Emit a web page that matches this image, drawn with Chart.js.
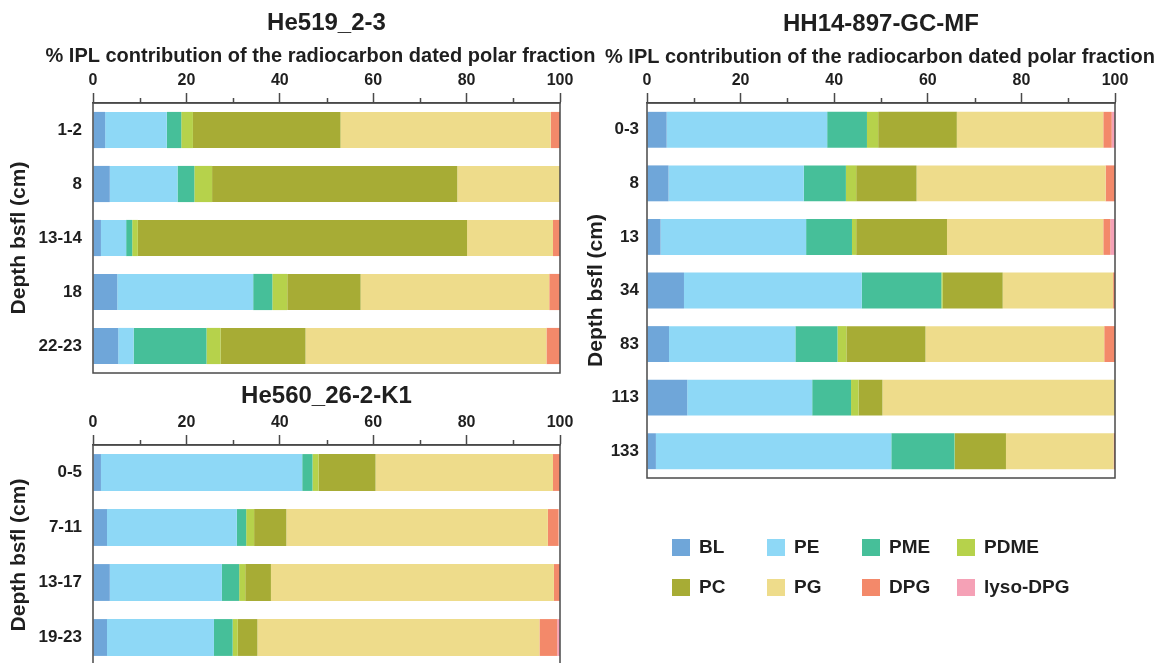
<!DOCTYPE html>
<html>
<head>
<meta charset="utf-8">
<title>IPL composition of radiocarbon dated polar fractions</title>
<script src="https://cdn.jsdelivr.net/npm/chart.js@4.4.1/dist/chart.umd.min.js"></script>
<style>
  html, body { margin: 0; padding: 0; background: #ffffff; }
  body { position: relative; width: 1159px; height: 663px; overflow: hidden;
         font-family: "Liberation Sans", Arial, Helvetica, sans-serif; }
  .panel { position: absolute; }
  .panel canvas { display: block; }
  #legend { position: absolute; left: 0; top: 0; width: 1159px; height: 663px; pointer-events: none; }
  .key { position: absolute; display: flex; align-items: center; height: 20px;
         font-weight: bold; font-size: 19px; color: #1f1f1f; white-space: nowrap; }
  .key i { display: inline-block; width: 18px; height: 17px; margin-right: 9px; }
</style>
</head>
<body>
<div class="panel" style="left:0;top:0;"><canvas id="he519" width="600" height="395"></canvas></div>
<div class="panel" style="left:0;top:380px;"><canvas id="he560" width="600" height="307"></canvas></div>
<div class="panel" style="left:580px;top:0;"><canvas id="hh14" width="579" height="500"></canvas></div>
<div id="legend"></div>

<script>
// ---- lipid classes (stack order, left to right) ----
const lipidClasses = ['BL', 'PE', 'PME', 'PDME', 'PC', 'PG', 'DPG', 'lyso-DPG'];

// ---- x axis ticks (% contribution) ----
const pctTicks = [0, 20, 40, 60, 80, 100];

// ---- He519_2-3 (% of polar fraction per depth) ----
const he519Depths = ['1-2', '8', '13-14', '18', '22-23'];
const he519BL   = [2.6, 3.6, 1.7, 5.2, 5.4];
const he519PE   = [13.2, 14.5, 5.4, 29.1, 3.3];
const he519PME  = [3.1, 3.6, 1.3, 4.1, 15.6];
const he519PDME = [2.5, 3.8, 1.2, 3.2, 3.0];
const he519PC   = [31.6, 52.5, 70.5, 15.7, 18.2];
const he519PG   = [45.0, 22.0, 18.4, 40.4, 51.6];
const he519DPG  = [2.0, 0.0, 1.5, 2.3, 2.9];
const he519Lyso = [0, 0, 0, 0, 0];

// ---- He560_26-2-K1 ----
const he560Depths = ['0-5', '7-11', '13-17', '19-23'];
const he560BL   = [1.7, 3.0, 3.6, 3.0];
const he560PE   = [43.1, 27.8, 24.0, 22.9];
const he560PME  = [2.2, 2.0, 3.7, 4.0];
const he560PDME = [1.3, 1.7, 1.3, 1.1];
const he560PC   = [12.2, 6.9, 5.5, 4.2];
const he560PG   = [38.0, 56.0, 60.6, 60.4];
const he560DPG  = [1.5, 2.3, 1.3, 3.8];
const he560Lyso = [0, 0, 0, 0.6];

// ---- HH14-897-GC-MF ----
const hh14Depths = ['0-3', '8', '13', '34', '83', '113', '133'];
const hh14BL   = [4.2, 4.6, 2.9, 7.9, 4.7, 8.6, 1.9];
const hh14PE   = [34.3, 28.9, 31.1, 38.0, 27.0, 26.7, 50.3];
const hh14PME  = [8.5, 9.0, 9.8, 17.0, 9.0, 8.3, 13.5];
const hh14PDME = [2.4, 2.2, 0.9, 0.3, 1.9, 1.6, 0.1];
const hh14PC   = [16.8, 12.9, 19.4, 12.8, 16.9, 5.1, 10.9];
const hh14PG   = [31.3, 40.4, 33.4, 23.6, 38.2, 49.7, 23.0];
const hh14DPG  = [1.8, 2.0, 1.5, 0.4, 2.3, 0, 0.3];
const hh14Lyso = [0.7, 0, 1.0, 0, 0, 0, 0];

// ---- styling ----
const palette = {
  'BL': '#6fa6d9', 'PE': '#8ed8f6', 'PME': '#46bf99', 'PDME': '#b6d24b',
  'PC': '#a7ac35', 'PG': '#eedc8b', 'DPG': '#f3896a', 'lyso-DPG': '#f5a1b6'
};
const FONT = '"Liberation Sans", Arial, Helvetica, sans-serif';
const AXIS = '#4a4a4a';
const INK = '#1f1f1f';
const AXIS_TITLE = '% IPL contribution of the radiocarbon dated polar fraction';

// Frame, minor ticks and headings, placed with the chart's own scales.
const framePlugin = {
  id: 'frame',
  afterDatasetsDraw(chart, args, opts) {
    const { ctx, chartArea: a, scales: { x } } = chart;
    ctx.save();
    ctx.strokeStyle = AXIS;
    ctx.lineWidth = 1.5;
    ctx.strokeRect(a.left, a.top, a.right - a.left, a.bottom - a.top);
    ctx.beginPath();
    for (let v = 10; v < 100; v += 20) {
      const px = Math.round(x.getPixelForValue(v)) + 0.5;
      ctx.moveTo(px, a.top);
      ctx.lineTo(px, a.top - 5);
    }
    ctx.stroke();

    const cx = (a.left + a.right) / 2;
    ctx.fillStyle = INK;
    ctx.textAlign = 'center';
    ctx.textBaseline = 'middle';
    ctx.font = 'bold 24px ' + FONT;
    ctx.fillText(opts.heading, cx + (opts.headingDx || 0), opts.headingY);
    if (opts.axisTitleY != null) {
      ctx.font = 'bold 20px ' + FONT;
      ctx.fillText(AXIS_TITLE, cx + (opts.axisTitleDx || 0), opts.axisTitleY);
    }
    ctx.restore();
  }
};

function buildDatasets(rows) {
  return lipidClasses.map((name, i) => ({
    label: name,
    data: rows[i],
    backgroundColor: palette[name],
    borderWidth: 0,
    barPercentage: 0.67,
    categoryPercentage: 1.0
  }));
}

function makeChart(id, depths, rows, geom) {
  return new Chart(document.getElementById(id), {
    type: 'bar',
    data: { labels: depths, datasets: buildDatasets(rows) },
    plugins: [framePlugin],
    options: {
      indexAxis: 'y',
      responsive: false,
      animation: false,
      events: [],
      layout: { padding: { left: 0, top: 0, right: geom.padRight, bottom: 22 } },
      plugins: {
        legend: { display: false },
        tooltip: { enabled: false },
        title: { display: false },
        frame: {
          heading: geom.heading,
          headingY: geom.headingY,
          axisTitleY: geom.axisTitleY,
          axisTitleDx: geom.axisTitleDx
        }
      },
      scales: {
        x: {
          type: 'linear',
          position: 'top',
          stacked: true,
          min: 0,
          max: 100,
          afterFit: s => { s.height = geom.axisHeight; },
          afterBuildTicks: s => {
            s.ticks = [];
            for (let v = 0; v <= 100; v += 10) s.ticks.push({ value: v });
          },
          grid: {
            display: true,
            drawOnChartArea: false,
            drawTicks: true,
            tickLength: 10,
            tickWidth: 1.5,
            tickColor: c => (c.tick && pctTicks.includes(c.tick.value)) ? AXIS : 'rgba(0,0,0,0)'
          },
          border: { display: true, color: AXIS, width: 1.5 },
          ticks: {
            autoSkip: false,
            maxRotation: 0,
            padding: 3,
            color: INK,
            font: { family: FONT, size: 16, weight: 'bold' },
            callback: v => pctTicks.includes(v) ? String(v) : ''
          }
        },
        y: {
          type: 'category',
          stacked: true,
          afterFit: s => { s.width = geom.axisWidth; },
          grid: { display: false, drawTicks: false },
          border: { display: false },
          ticks: {
            padding: geom.labelPad,
            color: INK,
            font: { family: FONT, size: 17, weight: 'bold' }
          },
          title: {
            display: true,
            text: 'Depth bsfl (cm)',
            color: INK,
            font: { family: FONT, size: 21, weight: 'bold' },
            padding: { top: geom.yTitlePad, bottom: 0 }
          }
        }
      }
    }
  });
}

makeChart('he519', he519Depths,
  [he519BL, he519PE, he519PME, he519PDME, he519PC, he519PG, he519DPG, he519Lyso],
  { heading: 'He519_2-3', headingY: 23, axisTitleY: 56, axisTitleDx: -6,
    axisHeight: 103, axisWidth: 93, padRight: 40, labelPad: 11, yTitlePad: 7 });

makeChart('he560', he560Depths,
  [he560BL, he560PE, he560PME, he560PDME, he560PC, he560PG, he560DPG, he560Lyso],
  { heading: 'He560_26-2-K1', headingY: 16, axisTitleY: null,
    axisHeight: 65, axisWidth: 93, padRight: 40, labelPad: 11, yTitlePad: 7 });

makeChart('hh14', hh14Depths,
  [hh14BL, hh14PE, hh14PME, hh14PDME, hh14PC, hh14PG, hh14DPG, hh14Lyso],
  { heading: 'HH14-897-GC-MF', headingY: 24, axisTitleY: 57, axisTitleDx: -1,
    axisHeight: 103, axisWidth: 67, padRight: 44, labelPad: 8, yTitlePad: 4 });

// Shared legend: two rows of four classes
const legend = document.getElementById('legend');
lipidClasses.forEach((name, i) => {
  const col = i % 4, row = Math.floor(i / 4);
  const el = document.createElement('div');
  el.className = 'key';
  el.style.left = (672 + col * 95) + 'px';
  el.style.top = (537 + row * 40) + 'px';
  const sw = document.createElement('i');
  sw.style.background = palette[name];
  el.appendChild(sw);
  el.appendChild(document.createTextNode(name));
  legend.appendChild(el);
});
</script>
</body>
</html>
